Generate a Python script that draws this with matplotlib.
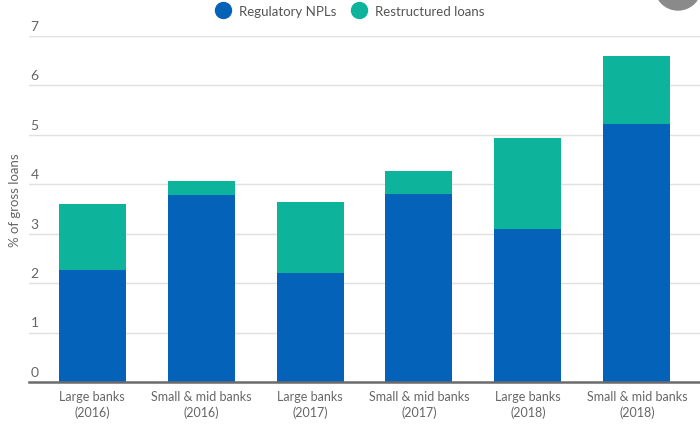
import matplotlib
matplotlib.use("Agg")
import matplotlib.pyplot as plt
from matplotlib.patches import Ellipse
from matplotlib.lines import Line2D
import matplotlib.transforms as mtransforms

categories = ["Large banks\n(2016)", "Small & mid banks\n(2016)", "Large banks\n(2017)",
              "Small & mid banks\n(2017)", "Large banks\n(2018)", "Small & mid banks\n(2018)"]
regulatory_npls = [2.27, 3.79, 2.21, 3.81, 3.10, 5.22]
restructured = [1.33, 0.28, 1.43, 0.46, 1.84, 1.38]
yticks = [0, 1, 2, 3, 4, 5, 6, 7]

blue = "#0562b9"
green = "#0db39a"
txt = "#666666"

plt.rcParams['font.family'] = ['Lato', 'DejaVu Sans']

fig = plt.figure(figsize=(7, 4.27), dpi=100)
ax = fig.add_axes([29/700, 44/427, 1 - 29/700, (383-37)/427])

x = list(range(len(categories)))
ax.bar(x, regulatory_npls, width=0.615, color=blue, zorder=2)
ax.bar(x, restructured, bottom=regulatory_npls, width=0.615, color=green, zorder=2)

ax.set_xlim(-0.58, 5.58)
ax.set_ylim(0, 7)
for s in ["top", "right", "left"]:
    ax.spines[s].set_visible(False)
ax.spines["bottom"].set_color("#6b6b6b")
ax.spines["bottom"].set_linewidth(1.8)
ax.spines["bottom"].set_zorder(3)

for v in yticks[1:]:
    ax.axhline(v, color="#e0e0e0", linewidth=1.0, zorder=1)

ax.set_yticks([])
trans = mtransforms.blended_transform_factory(ax.transAxes, ax.transData)
for v in yticks:
    ax.annotate(str(v), xy=(0, v), xycoords=trans, xytext=(1, 3), textcoords="offset points",
                ha="left", va="bottom", fontsize=10, color=txt)

ax.set_xticks(x)
ax.set_xticklabels(categories, fontsize=9, color=txt, linespacing=1.25)
ax.tick_params(axis="x", length=0, pad=6)

fig.text(15/700, 1 - 200/427, "% of gross loans", rotation=90, ha="center", va="center",
         fontsize=9.5, color=txt)

handles = [Line2D([0], [0], marker="o", linestyle="", markersize=11.5, markerfacecolor=blue, markeredgecolor=blue),
           Line2D([0], [0], marker="o", linestyle="", markersize=11.5, markerfacecolor=green, markeredgecolor=green)]
leg = fig.legend(handles, ["Regulatory NPLs", "Restructured loans"], loc="center",
                 bbox_to_anchor=(350/700, 1 - 12/427), ncol=2, frameon=False, fontsize=9.5,
                 handletextpad=0.6, columnspacing=1.1, handlelength=1.2)
for t in leg.get_texts():
    t.set_color("#555555")

circ = Ellipse((678/700, 1 + 12/427), 46/700, 46/427, transform=fig.transFigure,
               color="#8a8a8a", zorder=5)
fig.patches.append(circ)

fig.savefig("out.png", dpi=100)
